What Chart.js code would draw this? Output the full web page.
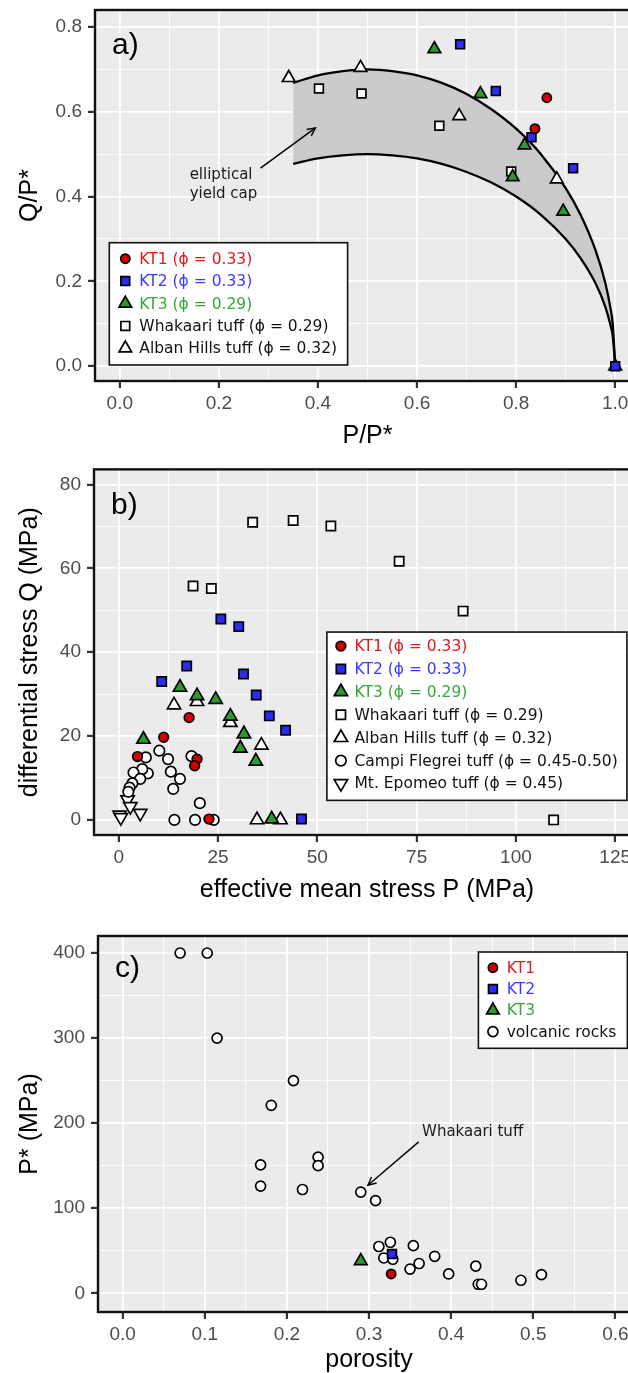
<!DOCTYPE html>
<html>
<head>
<meta charset="utf-8">
<script src="https://cdn.jsdelivr.net/npm/chart.js@4.4.1/dist/chart.umd.min.js"></script>
<style>
  html, body { margin: 0; padding: 0; background: #fff; overflow: hidden; }
  body { width: 628px; height: 1373px; position: relative; }
  canvas { position: absolute; left: 0; }
</style>
</head>
<body>
<canvas id="chartA" width="660" height="460" style="top:0px"></canvas>
<canvas id="chartB" width="660" height="460" style="top:460px"></canvas>
<canvas id="chartC" width="660" height="460" style="top:920px"></canvas>
<script>
// ---- panel a: normalised stresses Q/P* vs P/P* ----
const aKT1x = [0.862, 0.838];
const aKT1y = [0.633, 0.560];
const aKT2x = [0.687, 0.759, 0.831, 0.915, 1.0];
const aKT2y = [0.759, 0.649, 0.540, 0.467, 0.0];
const aKT3x = [0.635, 0.728, 0.817, 0.793, 0.895];
const aKT3y = [0.748, 0.642, 0.521, 0.446, 0.365];
const aWhakX = [0.402, 0.488, 0.645, 0.790];
const aWhakY = [0.655, 0.643, 0.567, 0.459];
const aAlbanX = [0.341, 0.486, 0.685, 0.882, 1.0];
const aAlbanY = [0.680, 0.704, 0.590, 0.441, 0.0];
// elliptical yield cap band (outer and inner edge)
const capX = [0.35, 0.40, 0.45, 0.50, 0.55, 0.60, 0.65, 0.70, 0.75, 0.80, 0.85, 0.90, 0.93, 0.96, 0.98, 0.99, 0.995, 1.0];
const capOuter = [0.668, 0.686, 0.696, 0.700, 0.696, 0.686, 0.668, 0.642, 0.606, 0.560, 0.500, 0.420, 0.357, 0.274, 0.196, 0.139, 0.099, 0.0];
const capInner = [0.477, 0.490, 0.497, 0.500, 0.497, 0.490, 0.477, 0.458, 0.433, 0.400, 0.357, 0.300, 0.255, 0.196, 0.140, 0.099, 0.071, 0.0];

// ---- panel b: differential stress Q vs effective mean stress P (MPa) ----
const bKT1x = [17.7, 11.3, 4.7, 19.7, 19.1, 22.7];
const bKT1y = [24.4, 19.7, 15.1, 14.5, 12.9, 0.2];
const bKT2x = [25.7, 30.2, 17.1, 10.8, 31.4, 34.6, 37.9, 42.0, 46.0];
const bKT2y = [47.9, 46.1, 36.7, 33.0, 34.8, 29.8, 24.8, 21.4, 0.2];
const bKT3x = [15.4, 19.7, 24.4, 28.1, 31.5, 30.6, 34.5, 6.2, 38.5];
const bKT3y = [31.6, 29.6, 28.7, 24.7, 20.5, 17.1, 14.0, 19.2, 0.2];
const bWhakX = [33.7, 43.9, 53.4, 70.6, 86.7, 18.7, 23.3, 109.5];
const bWhakY = [71.0, 71.4, 70.1, 61.7, 49.8, 55.8, 55.2, 0.0];
const bAlbanX = [13.9, 19.7, 28.1, 35.9, 34.8, 40.7];
const bAlbanY = [27.4, 28.2, 23.2, 17.8, 0.0, 0.0];
const bCampiX = [6.8, 10.2, 12.4, 18.3, 13.1, 15.4, 13.7, 20.4, 14.0, 19.2, 23.9, 7.3, 5.9, 3.7, 5.4, 3.4, 2.7, 2.4];
const bCampiY = [14.9, 16.5, 14.5, 15.2, 11.5, 9.8, 7.4, 4.0, 0.0, 0.0, 0.0, 11.1, 12.1, 11.3, 9.8, 8.7, 7.7, 6.7];
const bEpomeoX = [2.2, 2.9, 0.2, 5.4, 0.5];
const bEpomeoY = [4.8, 3.2, 1.2, 1.6, 0.6];

// ---- panel c: P* (MPa) vs porosity ----
const cVolcX = [0.070, 0.103, 0.115, 0.181, 0.208, 0.168, 0.168, 0.219, 0.238, 0.238, 0.290, 0.308, 0.312, 0.326, 0.354, 0.318, 0.329, 0.380, 0.361, 0.350, 0.397, 0.430, 0.433, 0.437, 0.485, 0.510];
const cVolcY = [400, 400, 300, 221, 250, 151, 126, 122, 160, 150, 119, 109, 55, 60, 56, 41.5, 40, 43.5, 35, 28.5, 22.7, 32, 10.6, 10.6, 15.3, 22];
const cKT1x = [0.327];
const cKT1y = [22.7];
const cKT2x = [0.328];
const cKT2y = [46.2];
const cKT3x = [0.290];
const cKT3y = [38];

const SANS = '"Liberation Sans", Arial, sans-serif';
const LEGEND_FONT = '15.5px "DejaVu Sans", Verdana, sans-serif';
const EDGE = 1.7;
Chart.defaults.font.family = SANS;

const marker = {
  kt1:    {style: 'circle',   r: 4.6, fill: '#D00000', text: '#E31A1C'},
  kt2:    {style: 'rect',     r: 6.2, fill: '#2B2BF2', text: '#3B3BFF'},
  kt3:    {style: 'triangle', r: 7.3, fill: '#2E9A2E', text: '#36A836'},
  whak:   {style: 'rect',     r: 6.2, fill: '#FFFFFF', text: '#111111'},
  alban:  {style: 'triangle', r: 7.3, fill: '#FFFFFF', text: '#111111'},
  campi:  {style: 'circle',   r: 5.0, fill: '#FFFFFF', text: '#111111'},
  epomeo: {style: 'triangle', r: 7.3, fill: '#FFFFFF', text: '#111111', rot: 180}
};

function pts(xs, ys) {
  return xs.map((x, i) => ({x: x, y: ys[i]}));
}

function markerSet(label, key, xs, ys, k) {
  const m = marker[key];
  return {
    type: 'scatter',
    label: label,
    data: pts(xs, ys),
    pointStyle: m.style,
    pointRotation: m.rot || 0,
    pointRadius: m.r * k,
    pointHoverRadius: m.r * k,
    pointBackgroundColor: m.fill,
    pointBorderColor: '#000',
    pointBorderWidth: EDGE,
    backgroundColor: m.fill,
    borderColor: '#000',
    showLine: false,
    legendColor: m.text
  };
}

function capLine(label, ys, fill) {
  return {
    type: 'line',
    label: label,
    data: pts(capX, ys),
    borderColor: '#000',
    borderWidth: 2.3,
    pointRadius: 0,
    cubicInterpolationMode: 'monotone',
    fill: fill,
    backgroundColor: '#CBCBCB'
  };
}

function linAxis(o) {
  const isMajor = v => Math.abs(v / o.major - Math.round(v / o.major)) < 1e-6;
  const left = o.pos === 'left';
  const step = o.major / 2;
  return {
    type: 'linear',
    position: o.pos,
    min: o.min,
    max: o.max,
    afterBuildTicks: s => {
      // major + minor break positions, like ggplot
      const out = [];
      for (let v = Math.ceil(o.min / step - 1e-9) * step; v <= o.max + 1e-9; v += step) {
        out.push({value: +v.toFixed(6)});
      }
      s.ticks = out;
    },
    afterFit: s => {
      if (left) { s.width = o.size; s.paddingTop = 0; s.paddingBottom = 0; }
      else { s.height = o.size; s.paddingLeft = 0; s.paddingRight = 0; }
    },
    border: {display: false},
    grid: {
      color: '#FFFFFF',
      lineWidth: c => (c.tick && isMajor(c.tick.value)) ? 1.8 : 0.9,
      drawTicks: true,
      tickLength: 7,
      tickColor: c => (c.tick && isMajor(c.tick.value)) ? '#333333' : 'rgba(0,0,0,0)',
      tickWidth: 2.2
    },
    ticks: {
      autoSkip: false,
      maxRotation: 0,
      minRotation: 0,
      padding: left ? 6 : 4,
      color: '#4D4D4D',
      font: {size: 19},
      callback: v => isMajor(v) ? v.toFixed(o.dec) : ''
    },
    title: {
      display: true,
      text: o.title,
      color: '#000',
      font: {size: 25},
      padding: left ? {top: 15, bottom: 0} : {top: 0, bottom: o.tpad}
    }
  };
}

// panel background, border, tag letter, arrows, notes and boxed legend
const decor = {
  id: 'decor',
  beforeDraw(chart) {
    const {ctx, chartArea: a} = chart;
    ctx.save();
    ctx.fillStyle = '#EBEBEB';
    ctx.fillRect(a.left, a.top, a.right - a.left, a.bottom - a.top);
    ctx.restore();
  },
  afterDraw(chart, args, o) {
    const {ctx, chartArea: a, scales} = chart;
    const sx = scales.x, sy = scales.y;
    ctx.save();
    ctx.strokeStyle = '#111';
    ctx.lineWidth = 2.4;
    ctx.strokeRect(a.left, a.top, a.right - a.left, a.bottom - a.top);

    ctx.fillStyle = '#000';
    ctx.font = '30px ' + SANS;
    ctx.textAlign = 'left';
    ctx.textBaseline = 'alphabetic';
    ctx.fillText(o.tag, a.left + o.tagAt[0], a.top + o.tagAt[1]);

    (o.arrows || []).forEach(ar => {
      const x1 = sx.getPixelForValue(ar.from[0]), y1 = sy.getPixelForValue(ar.from[1]);
      const x2 = sx.getPixelForValue(ar.to[0]), y2 = sy.getPixelForValue(ar.to[1]);
      const ang = Math.atan2(y2 - y1, x2 - x1), L = 9;
      ctx.strokeStyle = '#000';
      ctx.lineWidth = 1.4;
      ctx.beginPath();
      ctx.moveTo(x1, y1);
      ctx.lineTo(x2, y2);
      ctx.stroke();
      ctx.beginPath();
      ctx.moveTo(x2 - L * Math.cos(ang - 0.45), y2 - L * Math.sin(ang - 0.45));
      ctx.lineTo(x2, y2);
      ctx.lineTo(x2 - L * Math.cos(ang + 0.45), y2 - L * Math.sin(ang + 0.45));
      ctx.stroke();
    });

    ctx.fillStyle = '#1A1A1A';
    ctx.font = '15px "DejaVu Sans", Verdana, sans-serif';
    ctx.textBaseline = 'middle';
    (o.notes || []).forEach(n => {
      ctx.fillText(n.text, sx.getPixelForValue(n.x), sy.getPixelForValue(n.y));
    });

    const lg = o.legend;
    if (lg) {
      const x0 = a.left + lg.box[0], y0 = a.top + lg.box[1];
      ctx.fillStyle = '#FFF';
      ctx.fillRect(x0, y0, lg.box[2], lg.box[3]);
      ctx.strokeStyle = '#111';
      ctx.lineWidth = 1.6;
      ctx.strokeRect(x0, y0, lg.box[2], lg.box[3]);
      lg.order.forEach((idx, i) => {
        const ds = chart.data.datasets[idx];
        const cy = y0 + lg.first + i * lg.step;
        ctx.fillStyle = ds.pointBackgroundColor;
        ctx.strokeStyle = '#000';
        ctx.lineWidth = EDGE;
        Chart.helpers.drawPoint(ctx, {
          pointStyle: ds.pointStyle, rotation: ds.pointRotation, radius: ds.pointRadius, borderWidth: EDGE
        }, x0 + lg.markerX, cy);
        ctx.fillStyle = ds.legendColor;
        ctx.font = LEGEND_FONT;
        ctx.textBaseline = 'middle';
        ctx.fillText(ds.label, x0 + lg.textX, cy + 1);
      });
    }
    ctx.restore();
  }
};

function makeChart(id, datasets, xAxis, yAxis, pad, decorOpts) {
  return new Chart(document.getElementById(id), {
    type: 'scatter',
    data: {datasets: datasets},
    options: {
      responsive: false,
      animation: false,
      events: [],
      layout: {padding: pad},
      scales: {x: xAxis, y: yAxis},
      plugins: {
        legend: {display: false},
        tooltip: {enabled: false},
        filler: {drawTime: 'beforeDatasetsDraw'},
        decor: decorOpts
      }
    },
    plugins: [decor]
  });
}

// panel a (first dataset is drawn on top)
const ka = 1.0;
makeChart('chartA', [
  markerSet('KT2 (\u03D5 = 0.33)', 'kt2', aKT2x, aKT2y, ka),
  markerSet('KT1 (\u03D5 = 0.33)', 'kt1', aKT1x, aKT1y, ka),
  markerSet('KT3 (\u03D5 = 0.29)', 'kt3', aKT3x, aKT3y, ka),
  markerSet('Whakaari tuff (\u03D5 = 0.29)', 'whak', aWhakX, aWhakY, ka),
  markerSet('Alban Hills tuff (\u03D5 = 0.32)', 'alban', aAlbanX, aAlbanY, ka),
  capLine('yield cap inner', capInner, false),
  capLine('yield cap outer', capOuter, '-1')
],
  linAxis({pos: 'bottom', min: -0.05, max: 1.05, major: 0.2, dec: 1, size: 79, title: 'P/P*', tpad: 9}),
  linAxis({pos: 'left', min: -0.035, max: 0.84, major: 0.2, dec: 1, size: 95, title: 'Q/P*'}),
  {top: 10, right: 20, bottom: 0, left: 0},
  {
    tag: 'a)', tagAt: [17, 44],
    arrows: [{from: [0.284, 0.467], to: [0.395, 0.562]}],
    notes: [{text: 'elliptical', x: 0.141, y: 0.450}, {text: 'yield cap', x: 0.141, y: 0.406}],
    legend: {box: [14.3, 232.7, 238.3, 122.3], first: 16, step: 22.4, markerX: 16, textX: 30, order: [1, 0, 2, 3, 4]}
  }
);

// panel b
const kb = 1.05;
makeChart('chartB', [
  markerSet('KT2 (\u03D5 = 0.33)', 'kt2', bKT2x, bKT2y, kb),
  markerSet('KT1 (\u03D5 = 0.33)', 'kt1', bKT1x, bKT1y, kb),
  markerSet('KT3 (\u03D5 = 0.29)', 'kt3', bKT3x, bKT3y, kb),
  markerSet('Whakaari tuff (\u03D5 = 0.29)', 'whak', bWhakX, bWhakY, kb),
  markerSet('Alban Hills tuff (\u03D5 = 0.32)', 'alban', bAlbanX, bAlbanY, kb),
  markerSet('Campi Flegrei tuff (\u03D5 = 0.45-0.50)', 'campi', bCampiX, bCampiY, kb),
  markerSet('Mt. Epomeo tuff (\u03D5 = 0.45)', 'epomeo', bEpomeoX, bEpomeoY, kb)
],
  linAxis({pos: 'bottom', min: -6.25, max: 131.25, major: 25, dec: 0, size: 85, title: 'effective mean stress P (MPa)', tpad: 15}),
  linAxis({pos: 'left', min: -3.6, max: 83.6, major: 20, dec: 0, size: 94, title: 'differential stress Q (MPa)'}),
  {top: 9, right: 20, bottom: 0, left: 0},
  {
    tag: 'b)', tagAt: [17, 45],
    legend: {box: [232.9, 162.7, 300, 168.3], first: 14, step: 22.9, markerX: 14, textX: 27.6, order: [1, 0, 2, 3, 4, 5, 6]}
  }
);

// panel c
const kc = 1.0;
makeChart('chartC', [
  markerSet('KT2', 'kt2', cKT2x, cKT2y, kc),
  markerSet('KT1', 'kt1', cKT1x, cKT1y, kc),
  markerSet('KT3', 'kt3', cKT3x, cKT3y, kc),
  markerSet('volcanic rocks', 'campi', cVolcX, cVolcY, kc)
],
  linAxis({pos: 'bottom', min: -0.03, max: 0.63, major: 0.1, dec: 1, size: 68, title: 'porosity', tpad: 5}),
  linAxis({pos: 'left', min: -22, max: 420, major: 100, dec: 0, size: 98, title: 'P* (MPa)'}),
  {top: 16, right: 20, bottom: 0, left: 0},
  {
    tag: 'c)', tagAt: [17, 41],
    arrows: [{from: [0.3605, 178], to: [0.2987, 127]}],
    notes: [{text: 'Whakaari tuff', x: 0.3646, y: 189}],
    legend: {box: [380.4, 16, 149, 96.3], first: 15.7, step: 21.3, markerX: 14.5, textX: 28.3, order: [1, 0, 2, 3]}
  }
);
</script>
</body>
</html>
